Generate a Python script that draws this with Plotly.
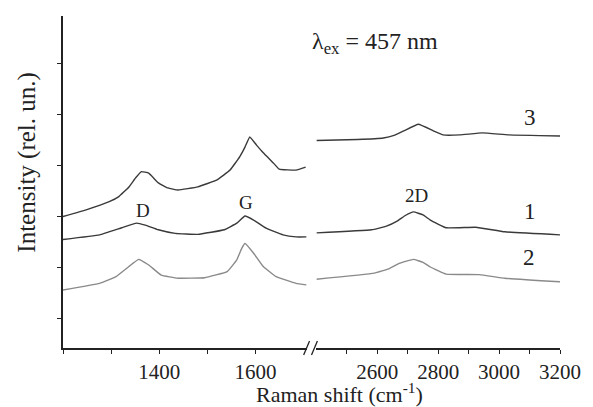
import plotly.graph_objects as go

# ---- data ----
# left panel (D and G bands)
x3_left = [1200, 1248, 1296, 1316, 1337, 1351, 1363, 1378, 1398, 1418, 1439, 1480, 1520, 1547, 1567, 1578, 1588, 1602, 1616, 1637, 1649, 1684, 1704]
y3_left = [2.99, 3.12, 3.28, 3.38, 3.57, 3.75, 3.87, 3.84, 3.65, 3.55, 3.51, 3.57, 3.71, 3.90, 4.16, 4.35, 4.55, 4.39, 4.24, 4.04, 3.92, 3.90, 3.96]

x1_left = [1200, 1276, 1322, 1353, 1371, 1398, 1433, 1480, 1535, 1561, 1578, 1596, 1622, 1657, 1684, 1706]
y1_left = [2.54, 2.63, 2.77, 2.86, 2.82, 2.73, 2.66, 2.64, 2.73, 2.86, 3.00, 2.92, 2.76, 2.63, 2.59, 2.59]

x2_left = [1200, 1276, 1310, 1337, 1357, 1378, 1404, 1439, 1494, 1541, 1561, 1571, 1578, 1596, 1616, 1643, 1684, 1706]
y2_left = [1.55, 1.68, 1.81, 2.01, 2.15, 2.04, 1.84, 1.78, 1.79, 1.91, 2.14, 2.36, 2.46, 2.27, 2.01, 1.81, 1.68, 1.65]

# right panel (2D band)
x3_right = [2400, 2535, 2620, 2655, 2687, 2735, 2784, 2816, 2871, 2945, 3032, 3200]
y3_right = [4.48, 4.50, 4.53, 4.58, 4.67, 4.80, 4.67, 4.59, 4.59, 4.63, 4.59, 4.57]

x1_right = [2400, 2581, 2630, 2665, 2692, 2719, 2750, 2774, 2826, 2923, 3019, 3200]
y1_right = [2.67, 2.73, 2.80, 2.90, 3.01, 3.08, 3.02, 2.92, 2.77, 2.78, 2.69, 2.63]

x2_right = [2400, 2590, 2640, 2672, 2719, 2750, 2774, 2826, 2935, 3019, 3200]
y2_right = [1.76, 1.88, 1.97, 2.07, 2.15, 2.09, 2.00, 1.86, 1.85, 1.78, 1.71]

left_ticks = [1200, 1300, 1400, 1500, 1600]
left_labels = ["", "", "1400", "", "1600"]
right_ticks = [2500, 2600, 2700, 2800, 2900, 3000, 3100, 3200]
right_labels = ["", "2600", "", "2800", "", "3000", "", "3200"]
y_ticks = [1, 2, 3, 4, 5, 6]

dark = "#3a3a3a"
gray = "#8a8a8a"
FONT = "Liberation Serif"
TXT = "#222"

fig = go.Figure()

def add(x, y, color, xa):
    fig.add_trace(go.Scatter(x=x, y=y, mode="lines", xaxis=xa, yaxis="y",
                             line=dict(color=color, width=1.4, shape="spline", smoothing=0.3),
                             showlegend=False, hoverinfo="skip"))

add(x3_left, y3_left, dark, "x")
add(x1_left, y1_left, dark, "x")
add(x2_left, y2_left, gray, "x")
add(x3_right, y3_right, dark, "x2")
add(x1_right, y1_right, dark, "x2")
add(x2_right, y2_right, gray, "x2")

axis_common = dict(showgrid=False, zeroline=False, showline=True, linecolor=TXT, linewidth=1.8,
                   ticks="outside", ticklen=4, tickwidth=1.3, tickcolor=TXT,
                   tickfont=dict(family=FONT, size=21, color=TXT))

L = 63; R = 569; T = 16; B = 348
W = 593; H = 407
pw = R - L; ph = B - T

def px(xp):
    return (xp - L) / pw

def py(yp):
    return (B - yp) / ph

fig.update_layout(
    width=W, height=H,
    margin=dict(l=L, r=W - R, t=T, b=H - B, pad=0),
    paper_bgcolor="white", plot_bgcolor="white",
    font=dict(family=FONT, color=TXT),
    xaxis=dict(domain=[0, px(311)], range=[1200, 1706], tickvals=left_ticks, ticktext=left_labels,
               anchor="y", ticklabelstandoff=0, **axis_common),
    xaxis2=dict(domain=[px(321), 1], range=[2400, 3200], tickvals=right_ticks, ticktext=right_labels,
                anchor="y", ticklabelstandoff=0, **axis_common),
    yaxis=dict(range=[1 + (318 - B) / 51, 1 + (318 - T) / 51], tickvals=y_ticks, showticklabels=False,
               **axis_common),
)

def big(s):
    return dict(family=FONT, size=s, color=TXT)

annotations = [
    dict(x=px(381), y=py(43), xref="paper", yref="paper", xanchor="center", yanchor="middle",
         text="λ<sub>ex</sub> = 457 nm", showarrow=False, font=big(24)),
    dict(x=3103, y=4.94, xref="x2", yref="y", text="3", showarrow=False, font=big(23)),
    dict(x=3100, y=3.08, xref="x2", yref="y", text="1", showarrow=False, font=big(23)),
    dict(x=3097, y=2.18, xref="x2", yref="y", text="2", showarrow=False, font=big(23)),
    dict(x=2729, y=3.41, xref="x2", yref="y", text="2D", showarrow=False, font=big(19)),
    dict(x=1367, y=3.10, xref="x", yref="y", text="D", showarrow=False, font=big(19)),
    dict(x=1580, y=3.27, xref="x", yref="y", text="G", showarrow=False, font=big(19)),
    dict(x=px(26), y=py(162), xref="paper", yref="paper", xanchor="center", yanchor="middle",
         text="Intensity (rel. un.)", textangle=-90, showarrow=False, font=big(25)),
    dict(x=px(344), y=py(393), xref="paper", yref="paper", xanchor="center", yanchor="middle",
         text="Raman shift (cm<sup>-1</sup>)", showarrow=False, font=big(22)),
]
fig.update_layout(annotations=annotations)

# axis break marks
shapes = [
    dict(type="line", xref="paper", yref="paper", x0=px(308), y0=py(355), x1=px(314), y1=py(341),
         line=dict(color=TXT, width=1.3)),
    dict(type="line", xref="paper", yref="paper", x0=px(316), y0=py(355), x1=px(322), y1=py(341),
         line=dict(color=TXT, width=1.3)),
]
fig.update_layout(shapes=shapes)

fig.write_html("out.html")
